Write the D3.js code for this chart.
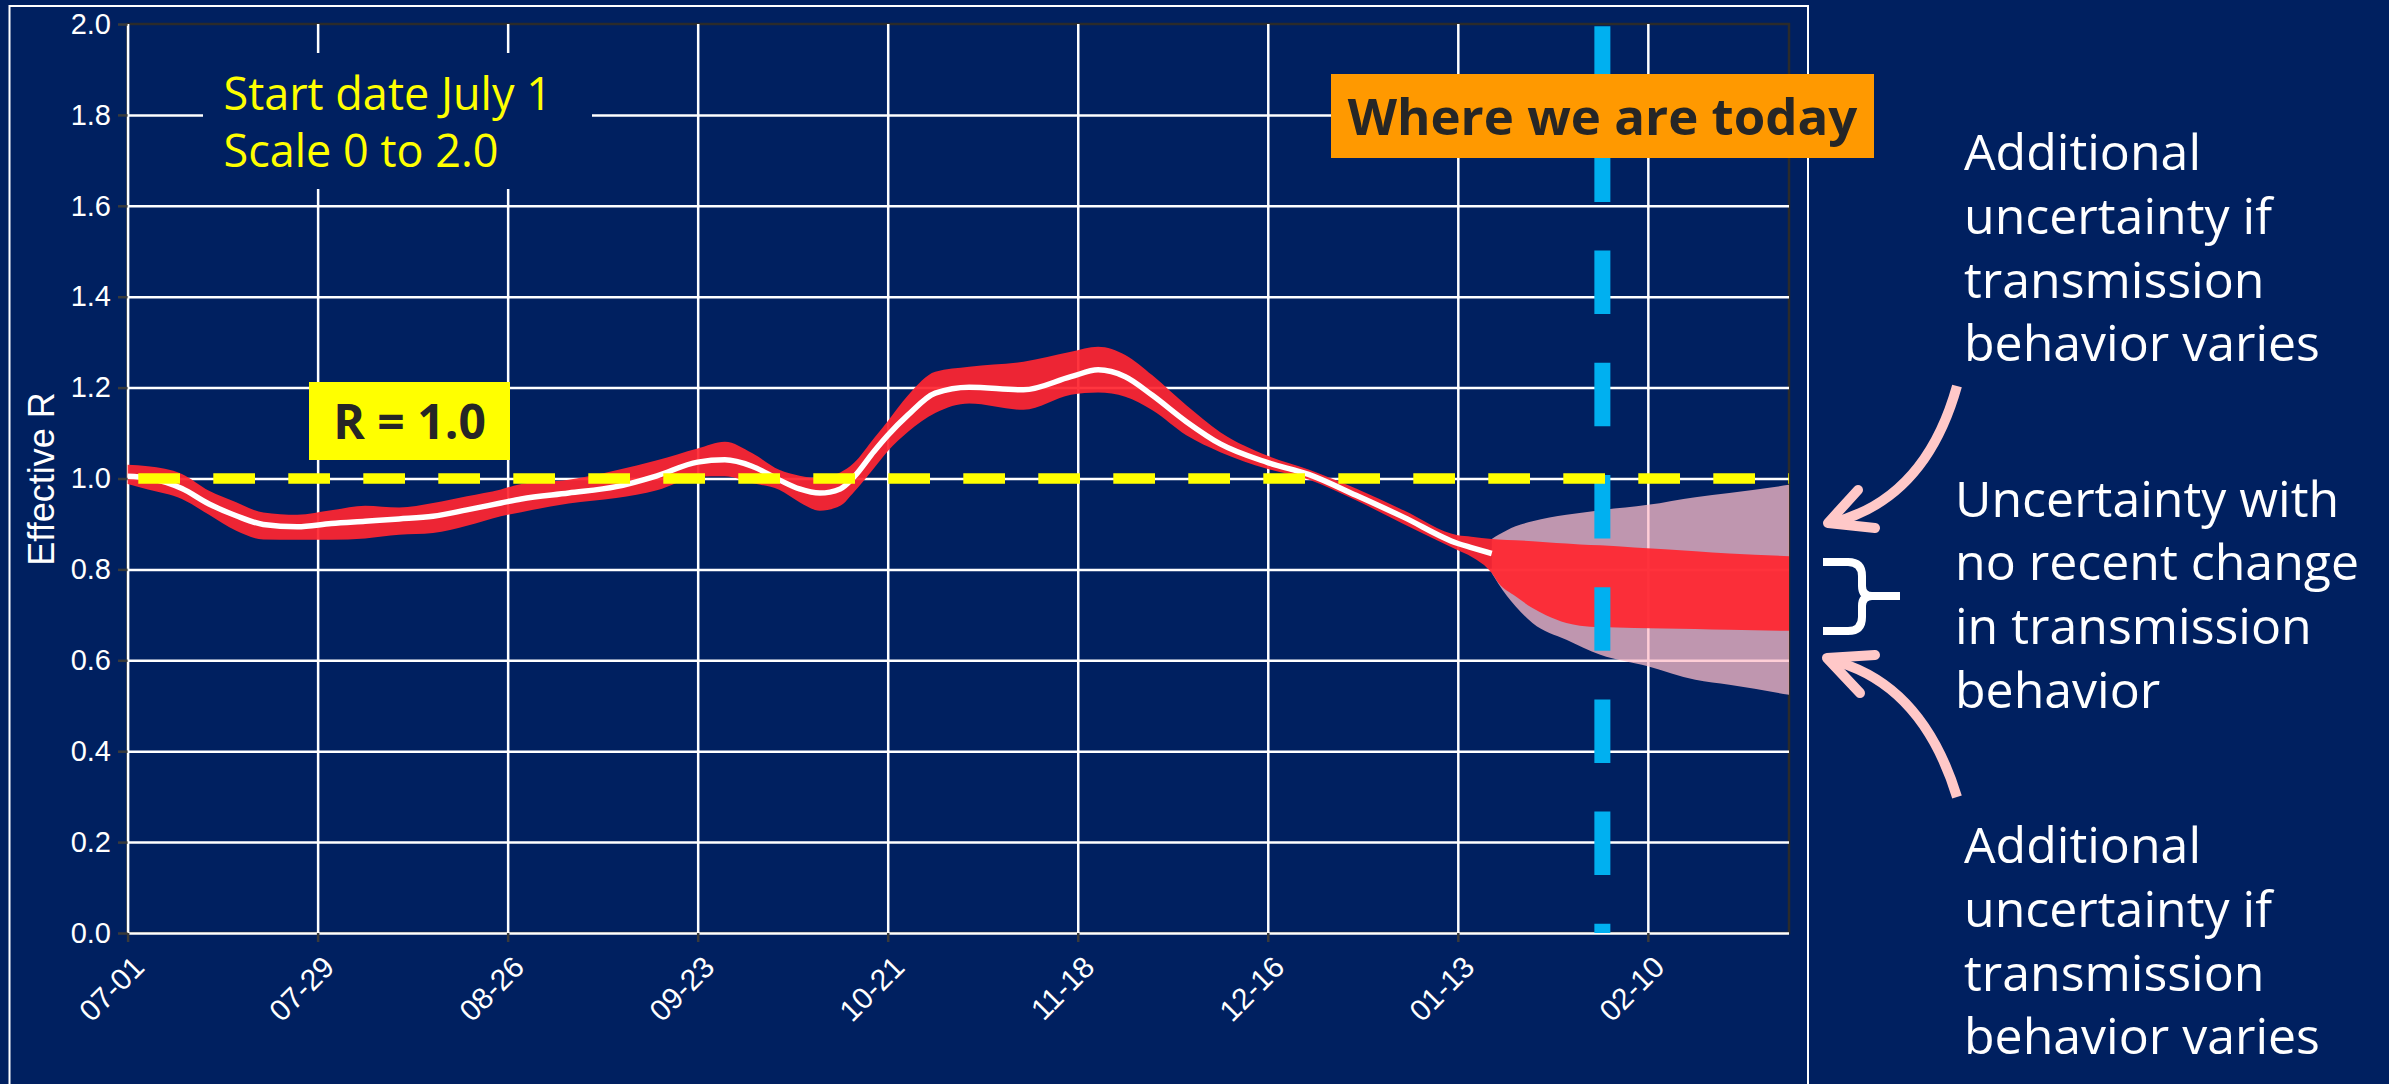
<!DOCTYPE html>
<html>
<head>
<meta charset="utf-8">
<script src="https://cdn.jsdelivr.net/npm/d3@7"></script>
<style>
  html, body { margin: 0; padding: 0; background: #002060; overflow: hidden; }
  svg { display: block; }
</style>
</head>
<body>
<svg id="chart" width="2389" height="1084"></svg>
<script>
// days are counted from the start date (July 1)
var startDate = "2020-07-01";
var todayDay = 217.3;
var lastDay = 244.8;

var tickDates = ["2020-07-01", "2020-07-29", "2020-08-26", "2020-09-23", "2020-10-21",
                 "2020-11-18", "2020-12-16", "2021-01-13", "2021-02-10"];
var yTicks = [0, 0.2, 0.4, 0.6, 0.8, 1.0, 1.2, 1.4, 1.6, 1.8, 2.0];

// estimated effective R and its band
var histDay = [0, 3, 8, 12, 16, 20, 25, 30, 35, 40, 45, 50, 55, 58, 65, 72, 78, 84, 88, 92, 96, 99,
               102, 105, 107, 110, 112, 115, 119, 124, 132, 139, 143, 147, 151, 156, 161, 168, 174,
               181, 188, 196, 198, 201];
var histMid = [1.005, 1.001, 0.978, 0.944, 0.918, 0.899, 0.894, 0.901, 0.906, 0.911, 0.917, 0.931,
               0.946, 0.955, 0.968, 0.982, 1.006, 1.036, 1.041, 1.027, 0.997, 0.977, 0.968, 0.977,
               1.003, 1.060, 1.095, 1.140, 1.188, 1.201, 1.195, 1.224, 1.239, 1.224, 1.183, 1.125,
               1.076, 1.035, 1.009, 0.963, 0.915, 0.857, 0.848, 0.835];
var histLo  = [0.988, 0.976, 0.955, 0.920, 0.885, 0.866, 0.865, 0.865, 0.868, 0.876, 0.880, 0.896,
               0.917, 0.926, 0.945, 0.957, 0.974, 1.004, 1.005, 0.990, 0.975, 0.948, 0.929, 0.940,
               0.970, 1.023, 1.060, 1.103, 1.144, 1.165, 1.151, 1.184, 1.189, 1.180, 1.150, 1.095,
               1.058, 1.021, 0.998, 0.952, 0.900, 0.842, 0.828, 0.792];
var histHi  = [1.030, 1.027, 1.010, 0.973, 0.948, 0.925, 0.920, 0.930, 0.940, 0.936, 0.946, 0.961,
               0.976, 0.988, 0.997, 1.018, 1.040, 1.066, 1.081, 1.056, 1.019, 1.006, 1.001, 1.013,
               1.034, 1.089, 1.126, 1.183, 1.235, 1.246, 1.257, 1.279, 1.290, 1.272, 1.227, 1.161,
               1.102, 1.050, 1.020, 0.978, 0.930, 0.875, 0.872, 0.867];

// projection with no recent change in transmission behavior
var fcDay = [202, 204.5, 207, 209, 212, 214, 217, 222, 231, 236, 244.8];
var fcLo  = [0.770, 0.741, 0.715, 0.699, 0.682, 0.676, 0.673, 0.671, 0.669, 0.667, 0.665];
var fcHi  = [0.866, 0.864, 0.862, 0.860, 0.857, 0.855, 0.853, 0.848, 0.840, 0.835, 0.829];

// additional uncertainty if transmission behavior varies
var wideDay = [201, 202, 204.5, 207, 212, 217, 224, 231, 236, 244.8];
var wideLo  = [0.792, 0.768, 0.719, 0.682, 0.645, 0.612, 0.587, 0.557, 0.546, 0.524];
var wideHi  = [0.867, 0.876, 0.895, 0.906, 0.920, 0.930, 0.942, 0.959, 0.968, 0.986];

var svg = d3.select("#chart");
var navy = "#002060";

var pLeft = 127.6, pRight = 1789, pTop = 24, pBottom = 933;

var t0 = d3.utcParse("%Y-%m-%d")(startDate);
function dayDate(d) { return new Date(t0.getTime() + d * 864e5); }

var x = d3.scaleUtc().domain([t0, dayDate(lastDay)]).range([pLeft, pRight]);
var y = d3.scaleLinear().domain([0, 2]).range([pBottom, pTop]);
var tickVals = tickDates.map(d3.utcParse("%Y-%m-%d"));

svg.append("rect").attr("width", 2389).attr("height", 1084).attr("fill", navy);

// outer frame
svg.append("rect")
    .attr("x", 9.5).attr("y", 6).attr("width", 1798.5).attr("height", 1110)
    .attr("fill", "none").attr("stroke", "#ffffff").attr("stroke-width", 2);

// plot border
svg.append("rect")
    .attr("x", pLeft).attr("y", pTop).attr("width", pRight - pLeft).attr("height", pBottom - pTop)
    .attr("fill", "none").attr("stroke", "#2b2b2b").attr("stroke-width", 2.5);

// grid
var gx = svg.append("g").attr("transform", "translate(0," + pBottom + ")")
    .call(d3.axisBottom(x).tickValues(tickVals).tickSize(-(pBottom - pTop)).tickFormat(""));
gx.select(".domain").remove();
gx.selectAll("line").attr("stroke", "#ffffff").attr("stroke-width", 2.5);

var gy = svg.append("g").attr("transform", "translate(" + pLeft + ",0)")
    .call(d3.axisLeft(y).tickValues(yTicks.filter(function(v) { return v < 2; }))
        .tickSize(-(pRight - pLeft)).tickFormat(""));
gy.select(".domain").remove();
gy.selectAll("line").attr("stroke", "#ffffff").attr("stroke-width", 2.5);

// bands
var area = d3.area()
    .x(function(d) { return x(dayDate(d.day)); })
    .y0(function(d) { return y(d.lo); })
    .y1(function(d) { return y(d.hi); })
    .curve(d3.curveMonotoneX);

var wide = wideDay.map(function(d, i) { return { day: d, lo: wideLo[i], hi: wideHi[i] }; });
var band = histDay.map(function(d, i) { return { day: d, lo: histLo[i], hi: histHi[i] }; })
    .concat(fcDay.map(function(d, i) { return { day: d, lo: fcLo[i], hi: fcHi[i] }; }));

svg.append("path").datum(wide).attr("d", area)
    .attr("fill", "rgb(255,189,202)").attr("fill-opacity", 0.75);

svg.append("path").datum(band).attr("d", area)
    .attr("fill", "#ff2630").attr("fill-opacity", 0.93);

var line = d3.line()
    .x(function(d, i) { return x(dayDate(histDay[i])); })
    .y(function(d) { return y(d); })
    .curve(d3.curveMonotoneX);

svg.append("path").datum(histMid).attr("d", line)
    .attr("fill", "none").attr("stroke", "#ffffff").attr("stroke-width", 5.5);

// where we are today
svg.append("line")
    .attr("x1", x(dayDate(todayDay))).attr("x2", x(dayDate(todayDay)))
    .attr("y1", y(2)).attr("y2", y(0))
    .attr("stroke", "#00b0f0").attr("stroke-width", 16)
    .attr("stroke-dasharray", "63.5,48.7").attr("stroke-dashoffset", 110);

// R = 1 reference
svg.append("line")
    .attr("x1", pLeft).attr("x2", pRight).attr("y1", y(1)).attr("y2", y(1))
    .attr("stroke", "#ffff00").attr("stroke-width", 10.5)
    .attr("stroke-dasharray", "41.7,33.3").attr("stroke-dashoffset", 64.3);

// axes
var ax = svg.append("g").attr("transform", "translate(0," + pBottom + ")")
    .call(d3.axisBottom(x).tickValues(tickVals).tickSize(9).tickFormat(d3.utcFormat("%m-%d")));
ax.select(".domain").remove();
ax.selectAll("line").attr("stroke", "#3a3a3a").attr("stroke-width", 2.5);
ax.selectAll("text")
    .attr("x", 0).attr("y", 0).attr("dy", 0)
    .attr("transform", "translate(18,36) rotate(-45)")
    .attr("text-anchor", "end")
    .attr("fill", "#ffffff")
    .style("font-family", "'Liberation Sans', Arial, sans-serif")
    .style("font-size", "30px");

var ay = svg.append("g").attr("transform", "translate(" + pLeft + ",0)")
    .call(d3.axisLeft(y).tickValues(yTicks).tickSize(9.6).tickPadding(7).tickFormat(d3.format(".1f")));
ay.select(".domain").remove();
ay.selectAll("line").attr("stroke", "#3a3a3a").attr("stroke-width", 2.5);
ay.selectAll("text")
    .attr("fill", "#ffffff")
    .style("font-family", "'Liberation Sans', Arial, sans-serif")
    .style("font-size", "29px");

svg.append("text")
    .attr("transform", "translate(54,479) rotate(-90)")
    .attr("text-anchor", "middle")
    .attr("fill", "#ffffff")
    .style("font-family", "'Liberation Sans', Arial, sans-serif")
    .style("font-size", "36px")
    .text("Effective R");

// labels in the plot
var font = "'Open Sans', 'Noto Sans', sans-serif";

svg.append("rect").attr("x", 203).attr("y", 53).attr("width", 389).attr("height", 136).attr("fill", navy);
svg.append("text").attr("x", 223.5).attr("y", 109.5).attr("fill", "#ffff00")
    .style("font-family", font).style("font-size", "45px").text("Start date July 1");
svg.append("text").attr("x", 223.5).attr("y", 167).attr("fill", "#ffff00")
    .style("font-family", font).style("font-size", "45px").text("Scale 0 to 2.0");

svg.append("rect").attr("x", 309).attr("y", 382).attr("width", 201).attr("height", 78).attr("fill", "#ffff00");
svg.append("text").attr("x", 409.5).attr("y", 439).attr("text-anchor", "middle").attr("fill", "#262626")
    .style("font-family", font).style("font-weight", "bold").style("font-size", "48px").text("R = 1.0");

svg.append("rect").attr("x", 1331).attr("y", 74).attr("width", 543).attr("height", 84).attr("fill", "#ff9900");
svg.append("text").attr("x", 1602.5).attr("y", 135).attr("text-anchor", "middle").attr("fill", "#262626")
    .style("font-family", font).style("font-weight", "bold").style("font-size", "51px").text("Where we are today");

// notes on the right
function note(lines, x0, y0) {
    lines.forEach(function(s, i) {
        svg.append("text").attr("x", x0).attr("y", y0 + i * 63.8).attr("fill", "#ffffff")
            .style("font-family", font).style("font-size", "50px").text(s);
    });
}
note(["Additional", "uncertainty if", "transmission", "behavior varies"], 1964, 170);
note(["Uncertainty with", "no recent change", "in transmission", "behavior"], 1955, 516.5);
note(["Additional", "uncertainty if", "transmission", "behavior varies"], 1964, 863);

svg.append("path")
    .attr("d", "M1823,562 H1848 Q1862,562 1862,576 V586 Q1862,596 1872,596 H1900 M1872,596 Q1862,596 1862,606 V617 Q1862,631 1848,631 H1823")
    .attr("fill", "none").attr("stroke", "#ffffff").attr("stroke-width", 8);

var pink = "#ffc8c8";
svg.append("path").attr("d", "M1957,386 Q1925,500 1831,523")
    .attr("fill", "none").attr("stroke", pink).attr("stroke-width", 10);
svg.append("path").attr("d", "M1858,490 L1828,523 L1875,528")
    .attr("fill", "none").attr("stroke", pink).attr("stroke-width", 10)
    .attr("stroke-linecap", "round").attr("stroke-linejoin", "round");
svg.append("path").attr("d", "M1957,797 Q1922,683 1831,660")
    .attr("fill", "none").attr("stroke", pink).attr("stroke-width", 10);
svg.append("path").attr("d", "M1860,693 L1827,658 L1875,655")
    .attr("fill", "none").attr("stroke", pink).attr("stroke-width", 10)
    .attr("stroke-linecap", "round").attr("stroke-linejoin", "round");
</script>
</body>
</html>
